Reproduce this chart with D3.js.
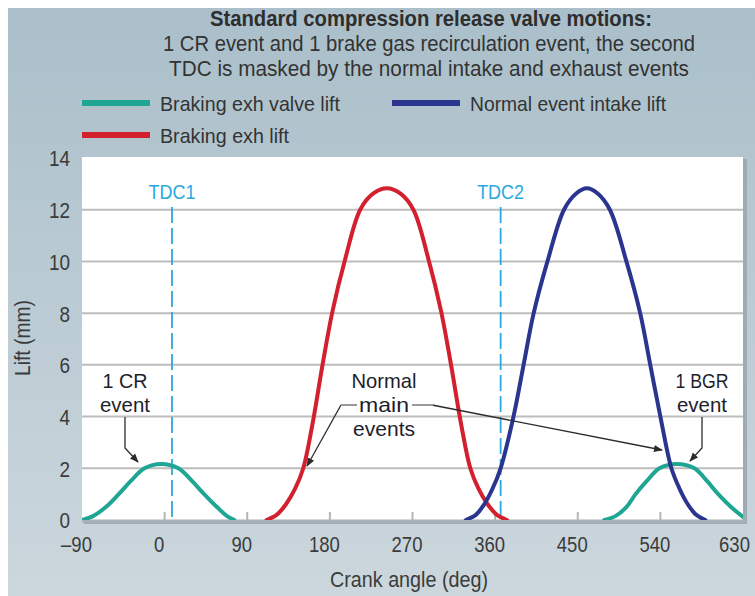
<!DOCTYPE html>
<html>
<head>
<meta charset="utf-8">
<script src="https://cdn.jsdelivr.net/npm/d3@7"></script>
<style>
  html, body { margin: 0; padding: 0; background: #fff; }
  svg { display: block; }
  text { font-family: "Liberation Sans", Arial, sans-serif; }
</style>
</head>
<body>
<svg id="chart" width="755" height="596"></svg>
<script>
// ---------------- data ----------------
const angleTicks = [-90, 0, 90, 180, 270, 360, 450, 540, 630];
const liftTicks = [0, 2, 4, 6, 8, 10, 12, 14];
const tdcAngles = [8, 366];
const tdcLabels = ["TDC1", "TDC2"];

const titleLines = [
  "Standard compression release valve motions:",
  "1 CR event and 1 brake gas recirculation event, the second",
  "TDC is masked by the normal intake and exhaust events"
];

const seriesNames = ["Braking exh valve lift", "Normal event intake lift", "Braking exh lift"];

// [crank angle (deg), lift (mm)]
const crEvent = [[-90,0],[-78,0.15],[-64,0.5],[-50,1],[-37,1.5],[-22,2],[-4,2.17],[15,2],[30,1.5],[43,1],[57,0.5],[68,0.15],[76,0]];
const bgrEvent = [[479,0],[491,0.15],[503,0.5],[513,1],[525,1.5],[539,2],[558,2.17],[577,2],[591,1.5],[603,1],[617,0.5],[630,0.12]];
const brakingExh = [[111,0],[122,0.2],[132,0.6],[142,1.2],[151,2],[161,3.7],[172,6],[183,8.1],[196,10],[213,12],[227,12.62],[242,12.83],[257,12.62],[271,12],[288,10],[301,8.1],[312,6],[323,3.7],[333,2],[342,1.2],[352,0.6],[362,0.2],[373,0]];
const intakeLift = [[328,0],[339,0.2],[348,0.6],[357,1.2],[366,2],[380,4],[391,6],[402,8],[417,10],[435,12],[448,12.62],[460,12.83],[472,12.62],[485,12],[503,10],[518,8],[529,6],[540,4],[552,2],[561,1.2],[570,0.6],[579,0.2],[589,0]];

// ---------------- layout ----------------
const W = 755, H = 596;
const plot = { left: 82, right: 743, top: 157, bottom: 520 };
const colors = { teal: "#1fa594", red: "#d3202f", blue: "#2a3590", tdc: "#29a9e1", text: "#3b3b3b", grid: "#bdbdbd" };

const svg = d3.select("#chart");
const defs = svg.append("defs");

const bg = defs.append("linearGradient").attr("id", "bg").attr("x1", 0).attr("y1", 0).attr("x2", 0).attr("y2", 1);
bg.append("stop").attr("offset", "0%").attr("stop-color", "#aabfca");
bg.append("stop").attr("offset", "100%").attr("stop-color", "#ccd7dd");

defs.append("clipPath").attr("id", "plotClip").append("rect")
  .attr("x", plot.left).attr("y", plot.top - 20)
  .attr("width", plot.right - plot.left).attr("height", plot.bottom - plot.top + 20);

defs.append("marker").attr("id", "arrow").attr("viewBox", "0 0 10 10")
  .attr("refX", 9).attr("refY", 5).attr("markerWidth", 9).attr("markerHeight", 9)
  .attr("markerUnits", "userSpaceOnUse").attr("orient", "auto")
  .append("path").attr("d", "M0,1 L10,5 L0,9 Z").attr("fill", "#2b2b2b");

svg.append("rect").attr("width", W).attr("height", H).attr("fill", "#fff");
svg.append("rect").attr("x", 8).attr("y", 8).attr("width", W - 8).attr("height", H - 8).attr("fill", "url(#bg)");

const x = d3.scaleLinear().domain([-90, 630]).range([plot.left, plot.right]);
const y = d3.scaleLinear().domain([0, 14]).range([plot.bottom, plot.top + 1]);

// condensed-text helper: squeeze natural width by a factor, or to a fixed width
function condense(sel, factor, fixed) {
  sel.each(function () {
    const w = fixed || this.getComputedTextLength() * factor;
    d3.select(this).attr("textLength", w).attr("lengthAdjust", "spacingAndGlyphs");
  });
}

// plot background with shadow
svg.append("rect").attr("x", plot.left + 2).attr("y", plot.top + 2)
  .attr("width", plot.right - plot.left + 2).attr("height", plot.bottom - plot.top + 2)
  .attr("fill", "#9eabb3");
svg.append("rect").attr("x", plot.left).attr("y", plot.top)
  .attr("width", plot.right - plot.left).attr("height", plot.bottom - plot.top)
  .attr("fill", "#fff");

// gridlines
svg.append("g").selectAll("line").data(liftTicks.filter(d => d > 0 && d < 14)).join("line")
  .attr("x1", plot.left).attr("x2", plot.right)
  .attr("y1", d => y(d)).attr("y2", d => y(d))
  .attr("stroke", colors.grid).attr("stroke-width", 2);

// bottom axis line + tick marks
svg.append("line").attr("x1", plot.left).attr("x2", plot.right + 2)
  .attr("y1", plot.bottom + 1).attr("y2", plot.bottom + 1)
  .attr("stroke", "#a8b2b8").attr("stroke-width", 3);
svg.append("g").selectAll("line").data(angleTicks.slice(1, -1)).join("line")
  .attr("x1", d => x(d)).attr("x2", d => x(d))
  .attr("y1", plot.bottom).attr("y2", plot.bottom - 8)
  .attr("stroke", "#b5b5b5").attr("stroke-width", 2);

// axes labels via d3 axes
const xAxis = d3.axisBottom(x).tickValues(angleTicks).tickSize(0).tickPadding(0)
  .tickFormat(d => d < 0 ? "\u2013" + Math.abs(d) : String(d));
const gx = svg.append("g").attr("transform", `translate(-6,${plot.bottom + 16})`).call(xAxis);
gx.select(".domain").remove();
gx.selectAll("text").attr("font-size", 22).attr("fill", colors.text)
  .attr("font-family", "Liberation Sans, Arial, sans-serif").attr("dy", "0.72em")
  .attr("dx", d => d === 630 ? -3 : 0)
  .call(condense, 0.84);

const yAxis = d3.axisLeft(y).tickValues(liftTicks).tickSize(0).tickPadding(0);
const gy = svg.append("g").attr("transform", `translate(${plot.left - 12},0)`).call(yAxis);
gy.select(".domain").remove();
gy.selectAll("text").attr("font-size", 22).attr("fill", colors.text)
  .attr("font-family", "Liberation Sans, Arial, sans-serif").attr("dy", "0.36em")
  .call(condense, 0.86);

svg.append("text").attr("x", 409).attr("y", 587).attr("text-anchor", "middle")
  .attr("font-size", 22).attr("fill", colors.text).text("Crank angle (deg)").call(condense, 0.86, 158);
svg.append("text").attr("transform", "translate(30,338) rotate(-90)").attr("text-anchor", "middle")
  .attr("font-size", 22).attr("fill", colors.text).text("Lift (mm)").call(condense, 0.86, 76);

// TDC lines
tdcAngles.forEach((a, i) => {
  svg.append("line").attr("x1", x(a)).attr("x2", x(a)).attr("y1", 207).attr("y2", plot.bottom)
    .attr("stroke", colors.tdc).attr("stroke-width", 1.8).attr("stroke-dasharray", "16,5");
  svg.append("text").attr("x", x(a)).attr("y", 199).attr("text-anchor", "middle")
    .attr("font-size", 21).attr("fill", colors.tdc).text(tdcLabels[i]).call(condense, 0.84, 47);
});

// curves
const line = d3.line().x(d => x(d[0])).y(d => y(d[1])).curve(d3.curveCatmullRom.alpha(0.5));
const curves = svg.append("g").attr("clip-path", "url(#plotClip)");
[[crEvent, colors.teal], [bgrEvent, colors.teal], [brakingExh, colors.red], [intakeLift, colors.blue]]
  .forEach(([data, c]) => {
    curves.append("path").datum(data).attr("d", line).attr("fill", "none")
      .attr("stroke", c).attr("stroke-width", 4).attr("stroke-linecap", "round");
  });

// titles
const titleWidths = [442, 532, 520];
titleLines.forEach((t, i) => {
  svg.append("text").attr("x", i === 0 ? 431 : 429).attr("y", 26 + i * 25).attr("text-anchor", "middle")
    .attr("font-size", 22).attr("font-weight", i === 0 ? "bold" : "normal")
    .attr("fill", i === 0 ? "#2e2e2e" : "#333").text(t).call(condense, 0.85, titleWidths[i]);
});

// legend
const legendItems = [
  { name: seriesNames[0], color: colors.teal, x: 82, y: 103, w: 180 },
  { name: seriesNames[1], color: colors.blue, x: 392, y: 103, w: 196 },
  { name: seriesNames[2], color: colors.red, x: 82, y: 135, w: 129 }
];
legendItems.forEach(it => {
  svg.append("line").attr("x1", it.x).attr("x2", it.x + 68).attr("y1", it.y).attr("y2", it.y)
    .attr("stroke", it.color).attr("stroke-width", 6);
  svg.append("text").attr("x", it.x + 78).attr("y", it.y + 8).attr("font-size", 21)
    .attr("fill", "#333").text(it.name).call(condense, 0.9, it.w);
});

// annotations
const annot = svg.append("g").attr("font-size", 21).attr("fill", "#1e1e2a").attr("text-anchor", "middle");
[["1 CR", 125, 388, 45], ["event", 125, 412, 50], ["Normal", 384, 388, 65], ["main", 384, 412, 50], ["events", 384, 436, 62], ["1 BGR", 702, 388, 53], ["event", 702, 412, 50]]
  .forEach(([t, tx, ty, tw]) => annot.append("text").attr("x", tx).attr("y", ty).text(t).call(condense, 0.9, tw));

const arrowLine = d3.line();
const arrows = svg.append("g").attr("fill", "none").attr("stroke", "#2b2b2b").attr("stroke-width", 1.3);
arrows.append("path").attr("d", arrowLine([[125, 417], [125, 448], [138, 462]])).attr("marker-end", "url(#arrow)");
arrows.append("path").attr("d", arrowLine([[702, 417], [702, 448], [690, 461]])).attr("marker-end", "url(#arrow)");
arrows.append("path").attr("d", arrowLine([[341, 405], [307, 466]])).attr("marker-end", "url(#arrow)");
arrows.append("path").attr("d", arrowLine([[432, 405], [662, 450]])).attr("marker-end", "url(#arrow)");
svg.append("g").attr("stroke", "#999").attr("stroke-width", 2)
  .selectAll("line").data([[341, 357], [412, 433]]).join("line")
  .attr("x1", d => d[0]).attr("x2", d => d[1]).attr("y1", 405).attr("y2", 405);
</script>
</body>
</html>
